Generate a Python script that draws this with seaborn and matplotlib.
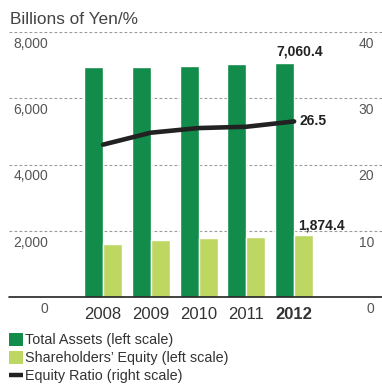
import matplotlib
matplotlib.use("Agg")
import matplotlib.pyplot as plt
from matplotlib.patches import Patch
from matplotlib.lines import Line2D
from matplotlib import transforms
import numpy as np
import pandas as pd
import seaborn as sns

years = ["2008", "2009", "2010", "2011", "2012"]
total_assets = [6930, 6940, 6970, 7020, 7060.4]
shareholders_equity = [1610, 1730, 1790, 1820, 1874.4]
equity_ratio = [23.0, 24.8, 25.5, 25.7, 26.5]

left_ticks = [0, 2000, 4000, 6000, 8000]
left_tick_labels = ["0", "2,000", "4,000", "6,000", "8,000"]
right_tick_labels = ["0", "10", "20", "30", "40"]

series_names = ["Total Assets (left scale)", "Shareholders\u2019 Equity (left scale)"]
dark_green = "#118c4a"
light_green = "#bdd762"
line_color = "#222222"

df = pd.DataFrame({
    "year": years * 2,
    "value": total_assets + shareholders_equity,
    "series": [series_names[0]] * len(years) + [series_names[1]] * len(years),
})

sns.set_theme(style="white")
plt.rcParams["font.family"] = ["Liberation Sans", "DejaVu Sans"]

W, H = 382, 385
fig = plt.figure(figsize=(W / 100, H / 100), dpi=100)
ax = fig.add_axes([9 / W, 88 / H, 373 / W, 265 / H])

sns.barplot(data=df, x="year", y="value", hue="series", order=years,
            hue_order=series_names, palette=[dark_green, light_green],
            width=0.8, saturation=1, ax=ax, legend=False, zorder=2)

ax.set_ylim(0, 8000)
ax.set_xlim(-1.97, 5.84)
for s in ax.spines.values():
    s.set_visible(False)
ax.axhline(0, color="#222222", lw=1.2, zorder=3, clip_on=False)
for v in left_ticks[1:]:
    ax.axhline(v, color="#9a9a9a", lw=0.8, ls=(0, (2.5, 2)), zorder=1)

ax.set_yticks([])
ax.set_xlabel("")
ax.set_ylabel("")
ax.tick_params(axis="x", length=0, pad=7, labelsize=12, colors="#333333")
for lbl in ax.get_xticklabels():
    if lbl.get_text() == "2012":
        lbl.set_fontweight("bold")

# scale labels sit just below each gridline, inside the plot area
off = transforms.offset_copy(ax.transData, fig=fig, x=0, y=-5, units="dots")
blend_l = transforms.blended_transform_factory(ax.transAxes, off)
for v, t, r in zip(left_ticks, left_tick_labels, right_tick_labels):
    ax.text(0.105, v, t, transform=blend_l, ha="right", va="top",
            fontsize=10, color="#555555")
    ax.text(0.9786, v, r, transform=blend_l,
            ha="right", va="top", fontsize=10, color="#555555")

# equity ratio on the right scale
ax2 = ax.twinx()
sns.lineplot(x=np.arange(len(years)), y=equity_ratio, ax=ax2, color=line_color,
             lw=3.3, solid_capstyle="round", zorder=4)
ax2.set_ylim(0, 40)
ax2.set_xlim(-1.97, 5.84)
ax2.set_yticks([])
for s in ax2.spines.values():
    s.set_visible(False)

# value labels for the latest year
ax.annotate(f"{total_assets[-1]:,.1f}", (4 - 0.2, total_assets[-1]),
            xytext=(11, 3), textcoords="offset points", ha="center", va="bottom",
            fontsize=10, fontweight="bold", color="#222222")
ax.annotate(f"{shareholders_equity[-1]:,.1f}", (4 + 0.2, shareholders_equity[-1]),
            xytext=(13, 2), textcoords="offset points", ha="center", va="bottom",
            fontsize=10, fontweight="bold", color="#222222")
ax2.annotate(f"{equity_ratio[-1]:.1f}", (4, equity_ratio[-1]),
             xytext=(4, 0), textcoords="offset points", ha="left", va="center",
             fontsize=10, fontweight="bold", color="#222222")

fig.text(10 / W, 1 - 20 / H, "Billions of Yen/%", ha="left", va="center",
         fontsize=12.4, color="#444444")

handles = [
    Patch(facecolor=dark_green, edgecolor="none"),
    Patch(facecolor=light_green, edgecolor="none"),
    Line2D([0], [0], color=line_color, lw=3.2, solid_capstyle="butt"),
]
labels = series_names + ["Equity Ratio (right scale)"]
fig.legend(handles, labels, loc="upper left", bbox_to_anchor=(3 / W, 1 - 327 / H),
           frameon=False, fontsize=10.4, handlelength=1.0, handleheight=1.0,
           handletextpad=0.15, labelspacing=0.25, borderaxespad=0,
           labelcolor="#333333")

fig.savefig("out.png", dpi=100)
